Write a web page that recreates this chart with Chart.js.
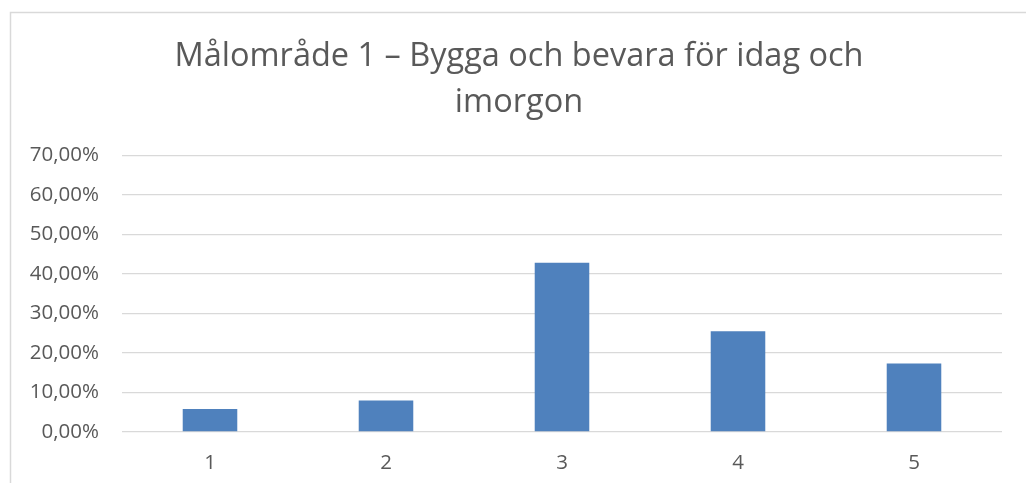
<!DOCTYPE html>
<html>
<head>
<meta charset="utf-8">
<script src="https://cdn.jsdelivr.net/npm/chart.js@4.4.0/dist/chart.umd.min.js"></script>
<style>
html,body{margin:0;padding:0;background:#fff;}
#wrap{position:relative;width:1026px;height:483px;}
canvas{display:block;}
</style>
</head>
<body>
<div id="wrap"><canvas id="c" width="1026" height="483"></canvas></div>
<script>
const categories = ["1", "2", "3", "4", "5"];
const values = [0.058, 0.080, 0.428, 0.255, 0.173];
const titleLines = ["Målområde 1 – Bygga och bevara för idag och", "imorgon"];
const yMin = 0, yMax = 0.7, yStep = 0.1;

const textColor = "#595959";
const gridColor = "#d9d9d9";
const barColor = "#4f81bd";

const framePlugin = {
  id: "frame",
  beforeDraw(chart) {
    const ctx = chart.ctx;
    ctx.save();
    ctx.fillStyle = "#fff";
    ctx.fillRect(0, 0, chart.width, chart.height);
    ctx.strokeStyle = gridColor;
    ctx.lineWidth = 1.5;
    ctx.beginPath();
    ctx.moveTo(10.5, chart.height);
    ctx.lineTo(10.5, 12.5);
    ctx.lineTo(chart.width, 12.5);
    ctx.stroke();
    ctx.restore();
  }
};

new Chart(document.getElementById("c"), {
  type: "bar",
  data: {
    labels: categories,
    datasets: [{
      data: values,
      backgroundColor: barColor,
      borderWidth: 0,
      barPercentage: 0.31,
      categoryPercentage: 1
    }]
  },
  options: {
    responsive: false,
    animation: false,
    devicePixelRatio: 1,
    layout: { padding: { left: 12, right: 0, top: 12, bottom: 0 } },
    plugins: {
      legend: { display: false },
      tooltip: { enabled: false },
      title: {
        display: true,
        text: titleLines,
        color: textColor,
        font: { family: "'Open Sans'", size: 32.5, weight: "normal", lineHeight: 1.42 },
        padding: { top: 22, bottom: 29 }
      }
    },
    scales: {
      x: {
        grid: { display: false, drawTicks: false },
        border: { display: false },
        ticks: { color: textColor, font: { family: "'Open Sans'", size: 20.5 }, padding: 19 },
        afterFit(s) { s.height = 51; }
      },
      y: {
        min: yMin, max: yMax,
        grid: { color: gridColor, lineWidth: 1.3, drawTicks: false },
        border: { display: false },
        ticks: {
          stepSize: yStep,
          color: textColor,
          font: { family: "'Open Sans'", size: 20.5 },
          padding: 23,
          callback: v => (v * 100).toFixed(2).replace(".", ",") + "%"
        },
        afterFit(s) { s.width = 110; }
      },
      yRight: {
        position: "right",
        min: yMin, max: yMax,
        grid: { display: false, drawTicks: false },
        border: { display: false },
        ticks: { display: false },
        afterFit(s) { s.width = 24; }
      }
    }
  },
  plugins: [framePlugin]
});
</script>
</body>
</html>
